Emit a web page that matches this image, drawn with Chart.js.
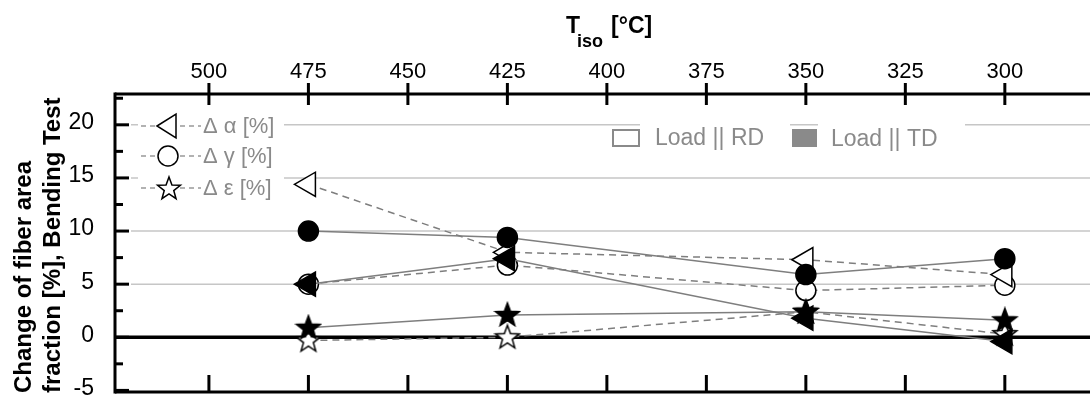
<!DOCTYPE html>
<html lang="en">
<head>
<meta charset="UTF-8">
<title>Change of fiber area fraction vs T_iso</title>
<script src="https://cdn.jsdelivr.net/npm/chart.js"></script>
<style>
  body { margin: 0; background: #fff; }
  #wrap { width: 1090px; height: 397px; }
</style>
</head>
<body>
<div id="wrap"><canvas id="fiberChart" width="1090" height="397"></canvas></div>
<script>
// isothermal temperatures of the samples (°C)
const temps = [475, 425, 350, 300];

// Load || RD  (open symbols, dashed lines)
const alphaRD = [14.4, 8.0, 7.3, 5.9];
const gammaRD = [5.0, 6.8, 4.4, 4.9];
const epsRD   = [-0.3, 0.0, 2.4, 0.3];

// Load || TD  (filled symbols, solid lines)
const alphaTD = [5.0, 7.4, 1.8, -0.4];
const gammaTD = [10.0, 9.4, 5.9, 7.4];
const epsTD   = [0.9, 2.1, 2.4, 1.6];

const xTicks = [500, 475, 450, 425, 400, 375, 350, 325, 300];
const yTicks = [-5, 0, 5, 10, 15, 20];
const seriesLabels = ['\u0394 \u03b1 [%]', '\u0394 \u03b3 [%]', '\u0394 \u03b5 [%]'];
const loadLabels = ['Load || RD', 'Load || TD'];

const FONT = '"Liberation Sans", Arial, sans-serif';
const GREY = '#8a8a8a';

function starPath(ctx, cx, cy, R, r) {
    ctx.beginPath();
    for (let i = 0; i < 10; i++) {
        const rr = i % 2 ? r : R;
        const a = -Math.PI / 2 + i * Math.PI / 5;
        ctx.lineTo(cx + rr * Math.cos(a), cy + rr * Math.sin(a));
    }
    ctx.closePath();
}

function makeStar(filled) {
    const c = document.createElement('canvas');
    c.width = 28; c.height = 28;
    const g = c.getContext('2d');
    starPath(g, 14, 14.5, 12.5, 5.2);
    g.fillStyle = filled ? '#000' : '#fff';
    g.fill();
    g.lineWidth = 1.5;
    g.strokeStyle = '#000';
    g.stroke();
    return c;
}
const starOpen = makeStar(false);
const starFilled = makeStar(true);

function series(ys, filled, shape) {
    let style = 'circle', radius = 10, rot = 0;
    if (shape === 'tri') { style = 'triangle'; radius = 14; rot = -90; }
    if (shape === 'star') { style = filled ? starFilled : starOpen; radius = 12; }
    return {
        data: temps.map((t, i) => ({ x: t, y: ys[i] })),
        showLine: true,
        borderColor: '#7e7e7e',
        borderWidth: 1.5,
        borderDash: filled ? [] : [7, 5],
        pointStyle: style,
        pointRadius: radius,
        pointHoverRadius: radius,
        pointRotation: rot,
        pointBackgroundColor: filled ? '#000' : '#fff',
        pointBorderColor: '#000',
        pointBorderWidth: 1.5
    };
}

function line(ctx, x1, y1, x2, y2) {
    ctx.beginPath(); ctx.moveTo(x1, y1); ctx.lineTo(x2, y2); ctx.stroke();
}

// grid, axes, tick labels, legends and titles
const frame = {
    id: 'frame',
    beforeDatasetsDraw(chart) {
        const { ctx, chartArea: a, scales: { y } } = chart;
        ctx.save();
        ctx.strokeStyle = '#c6c6c6';
        ctx.lineWidth = 1.5;
        yTicks.filter(v => v > 0).forEach(v => {
            const py = y.getPixelForValue(v);
            line(ctx, a.left + 16, py, a.right, py);
        });
        ctx.strokeStyle = '#000';
        ctx.lineWidth = 3.5;
        const y0 = y.getPixelForValue(0);
        line(ctx, a.left, y0, a.right, y0);
        ctx.restore();
    },
    afterDraw(chart) {
        const { ctx, chartArea: a, scales: { x, y } } = chart;
        ctx.save();
        ctx.strokeStyle = '#000';
        ctx.lineWidth = 3;
        // axis lines
        line(ctx, a.left, a.top - 1.5, a.left, a.bottom + 1.5);
        line(ctx, a.left, a.top, a.right, a.top);
        line(ctx, a.left, a.bottom, a.right, a.bottom);
        // x tick marks (top crosses the axis, bottom points inward) and labels
        ctx.fillStyle = '#000';
        ctx.font = '22px ' + FONT;
        ctx.textAlign = 'center';
        ctx.textBaseline = 'middle';
        xTicks.forEach(v => {
            const px = x.getPixelForValue(v);
            line(ctx, px, a.top - 11, px, a.top + 11);
            line(ctx, px, a.bottom, px, a.bottom - 17);
            ctx.fillText(String(v), px, a.top - 22);
        });
        // y tick marks, major and minor, inward
        ctx.font = '23px ' + FONT;
        ctx.textAlign = 'right';
        yTicks.forEach(v => {
            const py = y.getPixelForValue(v);
            line(ctx, a.left, py, a.left + 14, py);
            const pm = y.getPixelForValue(v + 2.5);
            if (pm > a.top) line(ctx, a.left, pm, a.left + 8, pm);
            ctx.fillText(String(v), a.left - 21, py - 2);
        });

        // legend of quantities
        ctx.fillStyle = '#fff';
        ctx.fillRect(138, 112, 146, 92);
        const rows = [126, 156, 188];
        rows.forEach((ry, i) => {
            ctx.strokeStyle = '#999';
            ctx.lineWidth = 1.5;
            ctx.setLineDash([5, 4]);
            line(ctx, 141, ry, 157, ry);
            line(ctx, 180, ry, 201, ry);
            ctx.setLineDash([]);
            ctx.strokeStyle = '#000';
            ctx.fillStyle = '#fff';
            const cx = 168;
            if (i === 0) {
                ctx.beginPath();
                ctx.moveTo(cx - 11, ry);
                ctx.lineTo(cx + 8, ry - 12);
                ctx.lineTo(cx + 8, ry + 12);
                ctx.closePath();
            } else if (i === 1) {
                ctx.beginPath();
                ctx.arc(cx, ry, 10, 0, Math.PI * 2);
            } else {
                starPath(ctx, cx + 1, ry + 1, 12, 5);
            }
            ctx.fill();
            ctx.stroke();
            ctx.fillStyle = GREY;
            ctx.font = '22px ' + FONT;
            ctx.textBaseline = 'middle';
            ctx.textAlign = 'left';
            ctx.fillText(seriesLabels[i], 203, ry + 1);
        });

        // legend of load directions
        ctx.fillStyle = '#fff';
        ctx.fillRect(640, 119, 150, 40);
        ctx.fillRect(818, 119, 147, 40);
        ctx.strokeStyle = GREY;
        ctx.lineWidth = 2;
        ctx.strokeRect(613, 130, 26, 16);
        ctx.fillStyle = GREY;
        ctx.fillRect(792, 129, 25, 18);
        ctx.font = '23px ' + FONT;
        ctx.fillText(loadLabels[0], 655, 139);
        ctx.fillText(loadLabels[1], 831, 140);

        // top axis title with subscript
        ctx.fillStyle = '#000';
        ctx.textBaseline = 'alphabetic';
        ctx.font = 'bold 23px ' + FONT;
        let tx = 566;
        ctx.fillText('T', tx, 33);
        tx += ctx.measureText('T').width - 3;
        ctx.font = 'bold 18px ' + FONT;
        ctx.fillText('iso', tx, 47);
        tx += ctx.measureText('iso').width + 8;
        ctx.font = 'bold 23px ' + FONT;
        ctx.fillText('[\u00b0C]', tx, 33);

        // y axis title, two lines
        ctx.font = 'bold 24px ' + FONT;
        ctx.textBaseline = 'middle';
        [['Change of fiber area', 24], ['fraction [%], Bending Test', 53]].forEach(([txt, lx]) => {
            ctx.save();
            ctx.translate(lx, 393);
            ctx.rotate(-Math.PI / 2);
            ctx.fillText(txt, 0, 0);
            ctx.restore();
        });
        ctx.restore();
    }
};

new Chart(document.getElementById('fiberChart'), {
    type: 'scatter',
    data: {
        datasets: [
            series(gammaTD, true, 'circle'),
            series(alphaTD, true, 'tri'),
            series(epsTD, true, 'star'),
            series(alphaRD, false, 'tri'),
            series(gammaRD, false, 'circle'),
            series(epsRD, false, 'star')
        ]
    },
    options: {
        responsive: false,
        animation: false,
        devicePixelRatio: 1,
        layout: { autoPadding: false, padding: { top: 0, left: 0, right: 0, bottom: 5 } },
        plugins: { legend: { display: false }, tooltip: { enabled: false } },
        scales: {
            x: {
                type: 'linear',
                position: 'top',
                reverse: true,
                min: 278.6,
                max: 523.6,
                afterBuildTicks: s => { s.ticks = xTicks.map(v => ({ value: v })); },
                afterFit: s => { s.height = 94; },
                ticks: { display: false },
                grid: { display: false, drawTicks: false },
                border: { display: false }
            },
            y: {
                type: 'linear',
                min: -5.15,
                max: 22.9,
                afterBuildTicks: s => { s.ticks = yTicks.map(v => ({ value: v })); },
                afterFit: s => { s.width = 115; },
                ticks: { display: false },
                grid: { display: false, drawTicks: false },
                border: { display: false }
            }
        }
    },
    plugins: [frame]
});
</script>
</body>
</html>
